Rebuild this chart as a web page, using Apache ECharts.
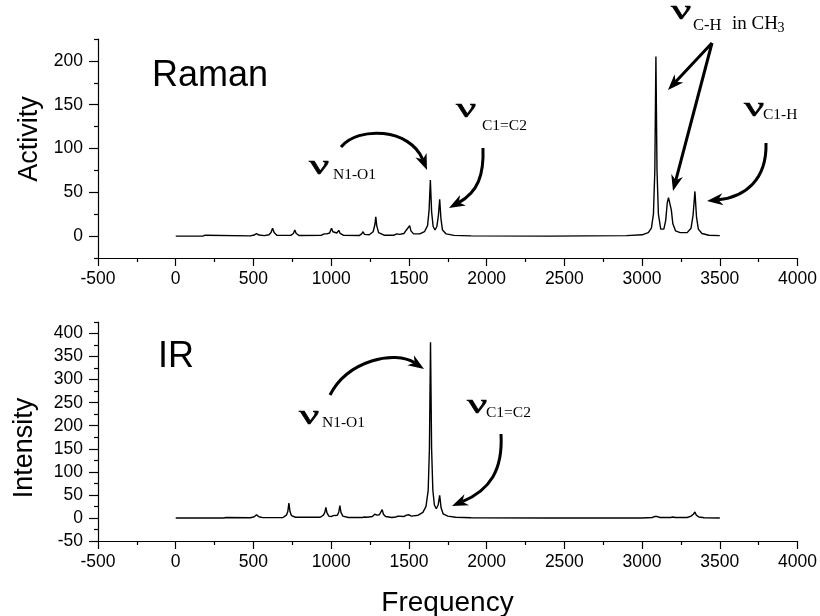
<!DOCTYPE html>
<html><head><meta charset="utf-8">
<script src="https://cdn.jsdelivr.net/npm/echarts@6/dist/echarts.min.js"></script>
<style>html,body{margin:0;padding:0;background:#fff}#c{width:820px;height:616px}</style>
</head><body><div id="c"></div>
<script>
// ---- data (frequency, value) ----
const ramanPoints = [
 [0,0],[175,0],[188,1],[200,0],
 [480,0.3],[505,1.2],[520,3],[535,1.2],[570,0.5],
 [600,1.5],[613,4],[623,9],[633,4],[650,1],
 [740,0.8],[757,3],[766,7],[775,3],[795,0.6],
 [935,0.8],[955,2.5],[963,4.5],[972,2.5],[990,3.5],[1002,9],[1011,5],[1023,6],[1036,3.5],[1049,6.5],[1058,3],[1080,0.8],
 [1180,0.6],[1196,2.5],[1205,5],[1214,2],[1245,1.5],[1270,5],[1281,13],[1287,22],[1293,12],[1305,4],[1340,1],
 [1405,1],[1421,2.5],[1430,4.5],[1440,2],[1468,3],[1484,7],[1493,6],[1505,12],[1513,6],[1530,2.5],
 [1570,2.5],[1600,5],[1620,12],[1630,30],[1638,64],[1646,28],[1656,11],[1668,7],[1680,11],[1690,24],[1698,42],[1706,20],[1716,7],[1740,2.5],[1790,0.8],[1900,0.3],[2400,0],
 [2900,0.5],[3000,1.5],[3040,4],[3060,9],[3073,25],[3082,75],[3089,205],[3096,75],[3105,25],[3120,8],[3140,8],[3152,18],[3162,38],[3170,44],[3180,42],[3188,30],[3198,14],[3215,6],[3245,4],
 [3290,4],[3315,9],[3328,24],[3340,51],[3350,22],[3362,8],[3385,3],[3430,1],[3500,0.5]
];
const irPoints = [
 [0,0],[165,0],[175,1],[185,0],[310,0],[323,1],[335,0],
 [480,0.5],[505,2.5],[520,7],[535,2.5],[560,0.8],
 [690,1],[712,6],[721,14],[728,32],[735,14],[745,5],[770,1.5],
 [930,1.5],[950,6],[959,12],[966,23],[973,11],[985,4],[1000,3],[1013,5],[1025,3.5],[1040,6],[1049,13],[1056,27],[1063,12],[1075,4],[1110,1],
 [1200,1],[1215,2],[1230,1.5],[1265,3],[1280,8],[1287,12],[1296,6],[1310,7],[1320,11],[1328,18],[1336,8],[1350,3],[1390,1],
 [1415,2],[1430,4],[1442,2],[1468,3],[1484,6],[1492,5],[1501,7],[1515,4],
 [1560,6],[1590,12],[1610,25],[1624,60],[1632,150],[1639,381],[1646,150],[1654,60],[1664,28],[1676,20],[1688,28],[1698,49],[1707,22],[1720,9],[1750,4],[1800,1.5],[1900,0.5],[2400,0],
 [3000,0],[3065,1],[3080,3],[3089,6],[3098,3],[3115,1],[3185,1],[3198,2],[3212,1],[3290,1],[3315,4],[3330,8],[3340,13],[3349,6],[3365,2],[3400,0.5],[3500,0]
];
const xMin = -500, xMax = 4000, xStep = 500;
const ramanMajor = [0, 50, 100, 150, 200];
const ramanMinor = [-25, 25, 75, 125, 175, 225];
const irMajor = [-50, 0, 50, 100, 150, 200, 250, 300, 350, 400];
const irMinor = [-25, 25, 75, 125, 175, 225, 275, 325, 375, 425];
const titles = { top: 'Raman', bottom: 'IR', yTop: 'Activity', yBottom: 'Intensity', x: 'Frequency' };

const SANS = '"Liberation Sans", Arial, sans-serif';
const SERIF = '"Liberation Serif", "Times New Roman", serif';
const tickFont = { color: '#000', fontSize: 17.5, fontFamily: SANS, formatter: v => String(v) };

function xAxis(grid) {
  return {
    type: 'value', gridIndex: grid, min: xMin, max: xMax, interval: xStep,
    axisLine: { onZero: false, lineStyle: { color: '#000', width: 1.2 } },
    axisTick: { length: 8, lineStyle: { color: '#000', width: 1.2 } },
    minorTick: { show: true, splitNumber: 2, length: 4, lineStyle: { color: '#000', width: 1.2 } },
    axisLabel: Object.assign({ margin: 12 }, tickFont),
    splitLine: { show: false }, minorSplitLine: { show: false }
  };
}
function yAxes(grid, min, max, major, minor) {
  return [{
    type: 'value', gridIndex: grid, min: min, max: max, position: 'left',
    axisLine: { show: true, onZero: false, lineStyle: { color: '#000', width: 1.2 } },
    axisTick: { show: true, length: 9, customValues: major, lineStyle: { color: '#000', width: 1.2 } },
    axisLabel: Object.assign({ margin: 15, customValues: major }, tickFont),
    splitLine: { show: false }
  }, {
    type: 'value', gridIndex: grid, min: min, max: max, position: 'left',
    axisLine: { show: false, onZero: false },
    axisTick: { show: true, length: 4, customValues: minor, lineStyle: { color: '#000', width: 1.2 } },
    axisLabel: { show: false, customValues: minor },
    splitLine: { show: false }
  }];
}

function txt(str, x, baseY, size, family) {
  return { type: 'text', x: x, y: baseY - 0.34 * size, z: 100,
    style: { text: str, fontSize: size, fontFamily: family, fill: '#000', align: 'left', verticalAlign: 'middle' } };
}
function nu(x, baseY) {
  return { type: 'text', x: x, y: baseY, z: 100, scaleX: 1.6,
    style: { text: 'ν', fontSize: 28, fontFamily: SERIF, fill: '#000', stroke: '#000', lineWidth: 0.6, align: 'left', verticalAlign: 'bottom' } };
}
function arrow(p0, c1, c2, p1) {
  const dx = p1[0] - c2[0], dy = p1[1] - c2[1];
  const L = Math.hypot(dx, dy), ux = dx / L, uy = dy / L, nx = -uy, ny = ux;
  const hl = 16, hw = 6;
  const bx = p1[0] - ux * hl, by = p1[1] - uy * hl;
  const ix = p1[0] - ux * hl * 0.7, iy = p1[1] - uy * hl * 0.7;
  return [{
    type: 'bezierCurve', z: 100,
    shape: { x1: p0[0], y1: p0[1], cpx1: c1[0], cpy1: c1[1], cpx2: c2[0], cpy2: c2[1], x2: ix, y2: iy },
    style: { stroke: '#000', lineWidth: 3, fill: null }
  }, {
    type: 'polygon', z: 100,
    shape: { points: [p1, [bx + nx * hw, by + ny * hw], [ix, iy], [bx - nx * hw, by - ny * hw]] },
    style: { fill: '#000' }
  }];
}

const NB = 6;
const graphics = [].concat(
  txt(titles.top, 152, 88, 36, SANS),
  txt(titles.bottom, 158, 369, 36, SANS),
  [{ type: 'text', x: 30, y: 139, rotation: Math.PI / 2, style: { text: titles.yTop, fontSize: 27, fontFamily: SANS, fill: '#000', align: 'center', verticalAlign: 'middle' } },
   { type: 'text', x: 24.5, y: 448, rotation: Math.PI / 2, style: { text: titles.yBottom, fontSize: 27, fontFamily: SANS, fill: '#000', align: 'center', verticalAlign: 'middle' } },
   { type: 'text', x: 447.5, y: 603, style: { text: titles.x, fontSize: 28, fontFamily: SANS, fill: '#000', align: 'center', verticalAlign: 'middle' } }],
  // top annotations
  nu(309, 175 + NB), txt('N1-O1', 333, 180, 15.5, SERIF),
  arrow([341, 147], [358, 126], [410, 128], [427, 170]),
  nu(456, 118 + NB), txt('C1=C2', 482, 131.5, 15.5, SERIF),
  arrow([483, 148], [484, 175], [478, 192], [449, 208]),
  nu(671, 20 + NB), txt('C-H', 693, 31.5, 16.5, SERIF), txt('in CH', 732, 30, 19, SERIF), txt('3', 777.5, 33.5, 14, SERIF),
  arrow([712, 43], [712, 43], [712, 43], [668, 90]),
  arrow([712, 43], [712, 43], [712, 43], [673, 191]),
  nu(744, 117 + NB), txt('C1-H', 763, 120, 15.5, SERIF),
  arrow([766, 143], [767, 180], [745, 197], [707, 201]),
  // bottom annotations
  nu(299, 425 + NB), txt('N1-O1', 322, 427.7, 15.5, SERIF),
  arrow([330, 395], [348, 360], [395, 350], [424, 369]),
  nu(467, 413.3 + NB), txt('C1=C2', 486, 417.7, 15.5, SERIF),
  arrow([501, 434], [503, 470], [490, 490], [452, 506])
);

const chart = echarts.init(document.getElementById('c'), null, { renderer: 'canvas' });
chart.setOption({
  backgroundColor: '#fff',
  animation: false,
  grid: [
    { left: 98, top: 39, width: 700, height: 219, containLabel: false },
    { left: 98, top: 322, width: 700, height: 219, containLabel: false }
  ],
  xAxis: [xAxis(0), xAxis(1)],
  yAxis: [].concat(yAxes(0, -25, 225, ramanMajor, ramanMinor), yAxes(1, -50, 425, irMajor, irMinor)),
  series: [
    { type: 'line', xAxisIndex: 0, yAxisIndex: 0, data: ramanPoints, showSymbol: false, symbol: 'none',
      lineStyle: { color: '#000', width: 1.4 }, silent: true },
    { type: 'line', xAxisIndex: 1, yAxisIndex: 2, data: irPoints, showSymbol: false, symbol: 'none',
      lineStyle: { color: '#000', width: 1.4 }, silent: true }
  ],
  graphic: graphics
});
</script>
</body></html>
